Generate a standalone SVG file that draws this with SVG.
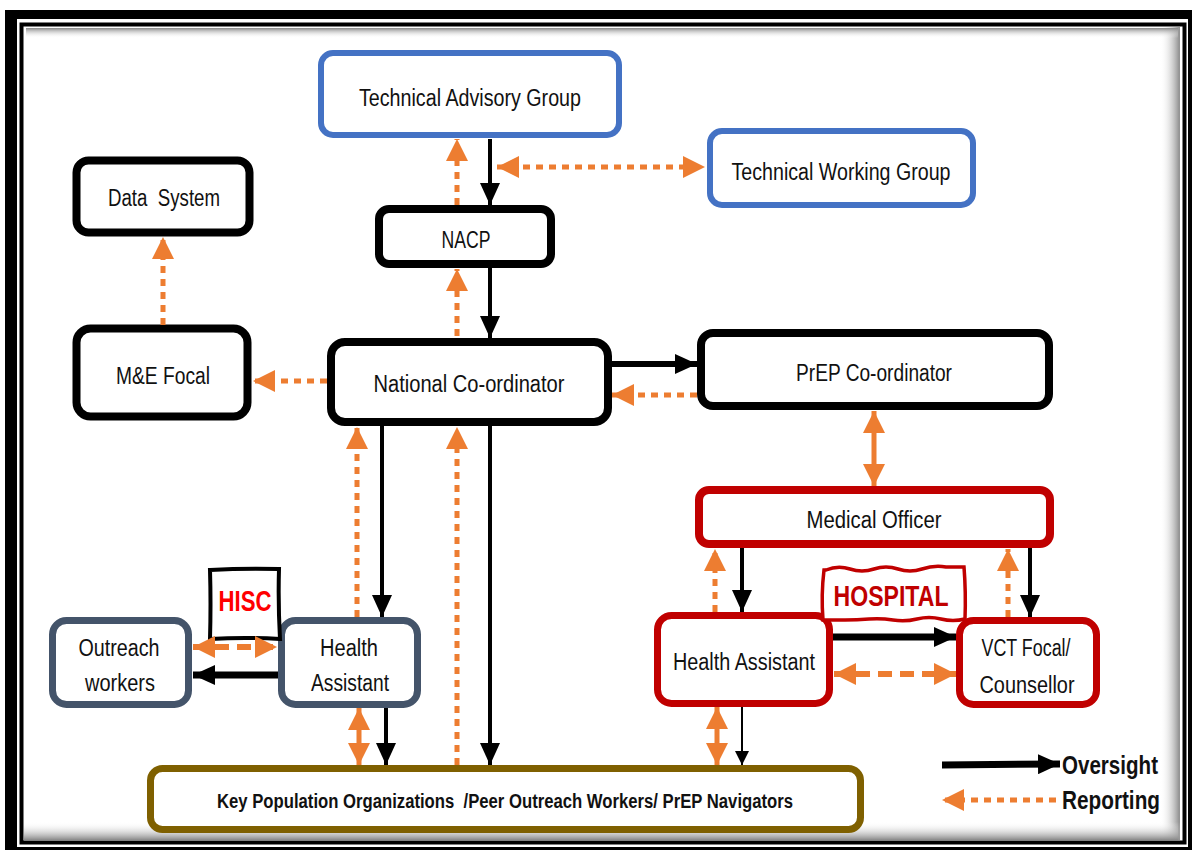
<svg xmlns="http://www.w3.org/2000/svg" width="1192" height="850" viewBox="0 0 1192 850">
<defs>
<linearGradient id="shR" x1="0" y1="0" x2="1" y2="0"><stop offset="0" stop-color="#fff" stop-opacity="0"/><stop offset="1" stop-color="#888"/></linearGradient>
<linearGradient id="shB" x1="0" y1="0" x2="0" y2="1"><stop offset="0" stop-color="#fff" stop-opacity="0"/><stop offset="1" stop-color="#888"/></linearGradient>
<marker id="hb" markerUnits="userSpaceOnUse" markerWidth="22" markerHeight="20" refX="22" refY="10" orient="auto-start-reverse"><path d="M0,0 L22,10 L0,20 z" fill="#000"/></marker>
<marker id="hbs" markerUnits="userSpaceOnUse" markerWidth="14" markerHeight="14" refX="14" refY="7" orient="auto-start-reverse"><path d="M0,0 L14,7 L0,14 z" fill="#000"/></marker>
<marker id="ho" markerUnits="userSpaceOnUse" markerWidth="22" markerHeight="22" refX="22" refY="11" orient="auto-start-reverse"><path d="M0,0 L22,11 L0,22 z" fill="#ED7D31"/></marker>
</defs>
<style>
.box{fill:#fff;}
.blue{stroke:#4472C4;stroke-width:6;}
.blk{stroke:#000;stroke-width:8;}
.red{stroke:#C00000;stroke-width:7;}
.slate{stroke:#44546A;stroke-width:7;}
.olive{stroke:#7F6000;stroke-width:7;}
.t{font-family:"Liberation Sans Narrow","Liberation Sans",Arial,sans-serif;font-size:23px;fill:#111;text-anchor:middle;white-space:pre;}
.tb{font-family:"Liberation Sans Narrow","Liberation Sans",Arial,sans-serif;font-weight:bold;text-anchor:middle;white-space:pre;}
.ov{stroke:#000;stroke-width:4;fill:none;marker-end:url(#hb);}
.rp{stroke:#ED7D31;stroke-width:5;stroke-dasharray:7 6;fill:none;marker-end:url(#ho);}
.bi{stroke:#ED7D31;stroke-width:5;fill:none;marker-start:url(#ho);marker-end:url(#ho);}
.bid{stroke:#ED7D31;stroke-width:6;stroke-dasharray:14 8;fill:none;marker-start:url(#ho);marker-end:url(#ho);}
</style>
<rect x="0" y="0" width="1192" height="850" fill="#fff"/>
<g id="frame">
<rect x="5" y="10" width="1187" height="840" fill="#000"/>
<rect x="17" y="19" width="1171" height="828" fill="#fff"/>
<rect x="21.5" y="24.5" width="1163" height="818" fill="none" stroke="#000" stroke-width="4"/>
<rect x="1160" y="27" width="20" height="813" fill="url(#shR)"/>
<rect x="24" y="822" width="1156" height="18" fill="url(#shB)"/>
<rect x="26" y="28" width="1152" height="10" fill="url(#shB)" transform="rotate(180 602 33)"/>
<line x1="1179" y1="27" x2="1179" y2="840" stroke="#999" stroke-width="1"/>
</g>
<g id="tag"><rect class="box blue" x="321" y="53" width="298" height="82" rx="12"/><text class="t" x="470" y="106" textLength="222" lengthAdjust="spacingAndGlyphs">Technical Advisory Group</text></g>
<g id="twg"><rect class="box blue" x="710" y="131" width="263" height="74" rx="12"/><text class="t" x="841" y="180" textLength="219" lengthAdjust="spacingAndGlyphs">Technical Working Group</text></g>
<g id="data"><rect class="box blk" x="76.5" y="160.5" width="173" height="72" rx="12"/><text class="t" x="164" y="206" textLength="112" lengthAdjust="spacingAndGlyphs">Data  System</text></g>
<g id="nacp"><rect class="box blk" x="379" y="209" width="172" height="55" rx="10"/><text class="t" x="466" y="248" textLength="49" lengthAdjust="spacingAndGlyphs">NACP</text></g>
<g id="me"><rect class="box blk" x="76.5" y="328.5" width="171" height="88" rx="14"/><text class="t" x="163" y="384" textLength="94" lengthAdjust="spacingAndGlyphs">M&amp;E Focal</text></g>
<g id="national"><rect class="box blk" x="331" y="342" width="277" height="80" rx="14"/><text class="t" x="469" y="392" textLength="191" lengthAdjust="spacingAndGlyphs">National Co-ordinator</text></g>
<g id="prep"><rect class="box blk" x="701" y="333" width="348" height="73" rx="12"/><text class="t" x="874" y="381" textLength="156" lengthAdjust="spacingAndGlyphs">PrEP Co-ordinator</text></g>
<g id="mo"><rect class="box red" x="699" y="490" width="351" height="54" rx="10" style="stroke-width:8"/><text class="t" x="874" y="528" textLength="135" lengthAdjust="spacingAndGlyphs">Medical Officer</text></g>
<g id="ha-hosp"><rect class="box red" x="657.5" y="615.5" width="172" height="88" rx="14"/><text class="t" x="744" y="670" textLength="142" lengthAdjust="spacingAndGlyphs">Health Assistant</text></g>
<g id="vct"><rect class="box red" x="959.5" y="620.5" width="137" height="84" rx="14"/><text class="t" x="1026" y="656" textLength="89" lengthAdjust="spacingAndGlyphs">VCT Focal/</text><text class="t" x="1027" y="693" textLength="95" lengthAdjust="spacingAndGlyphs">Counsellor</text></g>
<g id="hospital"><path d="M826,570 q12,-5 24,-1 t24,0 t24,0 t24,0 t24,-2 l18,0 q2,25 1,52 q-12,3 -24,0 t-24,0 t-24,1 t-24,-1 t-24,1 l-22,0 q-2,-25 1,-50 z" fill="#fff" stroke="#C00000" stroke-width="3.5"/><text class="tb" x="891" y="606" font-size="29" fill="#C00000" textLength="115" lengthAdjust="spacingAndGlyphs">HOSPITAL</text></g>
<g id="outreach"><rect class="box slate" x="52.5" y="620.5" width="136" height="84" rx="14"/><text class="t" x="119" y="656" textLength="81" lengthAdjust="spacingAndGlyphs">Outreach</text><text class="t" x="120" y="691" textLength="70" lengthAdjust="spacingAndGlyphs">workers</text></g>
<g id="ha-left"><rect class="box slate" x="281.5" y="620.5" width="136" height="84" rx="14"/><text class="t" x="349" y="656" textLength="58" lengthAdjust="spacingAndGlyphs">Health</text><text class="t" x="350" y="691" textLength="78" lengthAdjust="spacingAndGlyphs">Assistant</text></g>
<g id="hisc"><path d="M210,570 q34,-2 69,-1 q-1,34 1,70 q-35,-2 -70,0 q1,-35 0,-69 z" fill="#fff" stroke="#000" stroke-width="4"/><text class="tb" x="245" y="611" font-size="29" fill="#FF0000" textLength="53" lengthAdjust="spacingAndGlyphs">HISC</text></g>
<g id="kp"><rect class="box olive" x="150.5" y="768.5" width="710" height="61" rx="12"/><text class="tb" x="505" y="808" font-size="20" fill="#111" textLength="576" lengthAdjust="spacingAndGlyphs">Key Population Organizations  /Peer Outreach Workers/ PrEP Navigators</text></g>
<g id="connectors">
<line class="ov" x1="490" y1="139" x2="490" y2="205"/>
<line class="rp" x1="457" y1="205" x2="457" y2="139"/>
<line class="rp" x1="497" y1="167" x2="705" y2="167" style="marker-start:url(#ho)"/>
<line class="ov" x1="490" y1="268" x2="490" y2="338"/>
<line class="rp" x1="457" y1="336" x2="457" y2="269"/>
<line class="rp" x1="163" y1="325" x2="163" y2="237"/>
<line class="rp" x1="327" y1="381" x2="253" y2="381"/>
<line class="ov" x1="612" y1="364" x2="697" y2="364" style="stroke-width:6"/>
<line class="rp" x1="697" y1="395" x2="612" y2="395"/>
<line class="bi" x1="874" y1="411" x2="874" y2="486"/>
<line class="ov" x1="382" y1="426" x2="382" y2="617"/>
<line class="rp" x1="357" y1="617" x2="357" y2="427"/>
<line class="rp" x1="457" y1="765" x2="457" y2="427"/>
<line class="ov" x1="490" y1="426" x2="490" y2="765"/>
<line class="bid" x1="193" y1="647" x2="277" y2="647"/>
<line class="ov" x1="278" y1="675" x2="193" y2="675" style="stroke-width:7"/>
<line class="bi" x1="359" y1="708" x2="359" y2="765"/>
<line class="ov" x1="386" y1="708" x2="386" y2="765"/>
<line class="ov" x1="742" y1="548" x2="742" y2="612"/>
<line class="rp" x1="715" y1="612" x2="715" y2="549"/>
<line class="ov" x1="1030" y1="548" x2="1030" y2="617"/>
<line class="rp" x1="1008" y1="617" x2="1008" y2="549"/>
<line class="ov" x1="833" y1="637" x2="956" y2="637" style="stroke-width:7"/>
<line class="bid" x1="834" y1="674" x2="956" y2="674"/>
<line class="bi" x1="717" y1="707" x2="717" y2="765"/>
<line x1="742" y1="707" x2="742" y2="765" stroke="#000" stroke-width="2" marker-end="url(#hbs)"/>
</g>
<g id="legend">
<line x1="942" y1="765" x2="1060" y2="764" stroke="#000" stroke-width="7" marker-end="url(#hb)"/>
<text class="tb" x="1110" y="774" font-size="25" fill="#111" textLength="96" lengthAdjust="spacingAndGlyphs">Oversight</text>
<line class="rp" x1="1056" y1="800" x2="942" y2="800"/>
<text class="tb" x="1111" y="809" font-size="25" fill="#111" textLength="98" lengthAdjust="spacingAndGlyphs">Reporting</text>
</g>
</svg>
